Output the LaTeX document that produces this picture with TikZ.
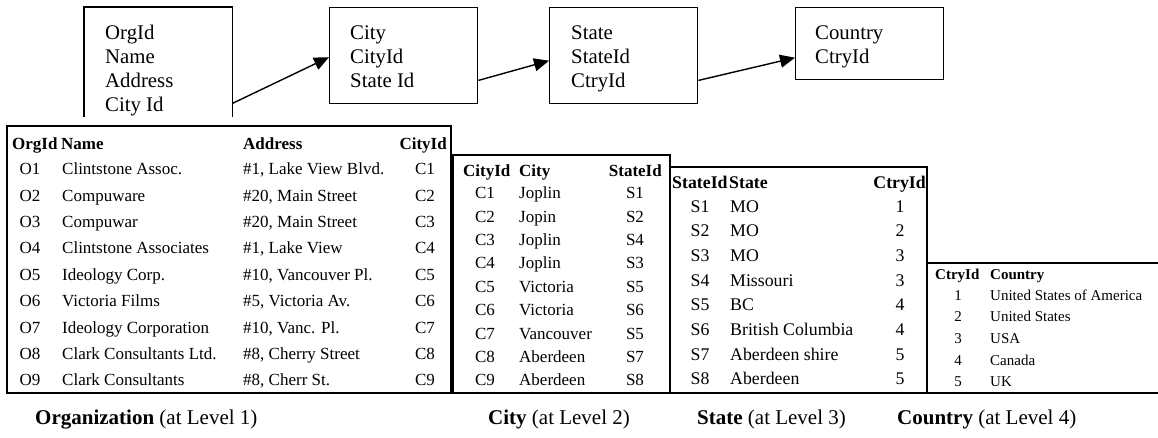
\documentclass[tikz,border=0pt]{standalone}
\usepackage{fontspec}
\setmainfont{Liberation Serif}
\usetikzlibrary{arrows.meta}
\begin{document}
\begin{tikzpicture}[x=1pt,y=-1pt,
  boxln/.style={line width=1.4pt},
  tabln/.style={line width=1.3pt},
  blbl/.style={anchor=base west, inner sep=0pt, font=\fontsize{20.8}{24}\selectfont},
  arr/.style={-{Triangle[length=15pt,width=13pt]}, line width=1.4pt},
  ot/.style={inner sep=0pt, font=\fontsize{17}{20}\selectfont},
  ct/.style={inner sep=0pt, font=\fontsize{17}{20}\selectfont},
  st/.style={inner sep=0pt, font=\fontsize{17.8}{20}\selectfont},
  kt/.style={inner sep=0pt, font=\fontsize{15}{18}\selectfont},
  captxt/.style={anchor=base west, inner sep=0pt, font=\fontsize{21}{24}\selectfont}
]
\useasboundingbox (0,0) rectangle (1158,437);

% ---------- top entity boxes ----------
\node (orgbox) [anchor=north west, minimum width=148pt, minimum height=110pt, inner sep=0pt] at (84,7) {};
\draw[boxln] (orgbox.south west) -- (orgbox.north west) -- (orgbox.north east) -- (orgbox.south east);
\node (citybox) [draw, boxln, anchor=north west, minimum width=148pt, minimum height=96pt, inner sep=0pt] at (329,7) {};
\node (statebox) [draw, boxln, anchor=north west, minimum width=148pt, minimum height=96pt, inner sep=0pt] at (549,7) {};
\node (ctrybox) [draw, boxln, anchor=north west, minimum width=148pt, minimum height=72pt, inner sep=0pt] at (795,7) {};

\node[blbl] (bo1) at (105,39) {OrgId};
\node[blbl] (bo2) at (105,63) {Name};
\node[blbl] (bo3) at (105,87) {Address};
\node[blbl] (bo4) at (105,111) {City Id};
\node[blbl] (bc1) at (350,39) {City};
\node[blbl] (bc2) at (350,63) {CityId};
\node[blbl] (bc3) at (350,87) {State Id};
\node[blbl] (bs1) at (571,39) {State};
\node[blbl] (bs2) at (571,63) {StateId};
\node[blbl] (bs3) at (571,87) {CtryId};
\node[blbl] (bk1) at (815,39) {Country};
\node[blbl] (bk2) at (815,63) {CtryId};

\draw[arr] ([yshift=14pt]orgbox.south east) -- ([yshift=-1.5pt]citybox.west);
\draw[arr] ([yshift=24pt]citybox.south east) -- ([yshift=-5pt]statebox.west);
\draw[arr] ([yshift=24pt]statebox.south east) -- ([yshift=-14pt]ctrybox.west);

% ---------- table borders ----------
\draw[tabln] (7,126) rectangle (451,393);
\draw[tabln] (453,155) rectangle (670,393);
\draw[tabln] (670,167) rectangle (927,393);
\draw[tabln] (1158,263) -- (927,263) -- (927,393) -- (1158,393);
\draw[tabln] (7,393) -- (1158,393);

% ---------- Organization table ----------
\node[ot, anchor=base west] (oh1) at (12,149) {\textbf{OrgId}};
\node[ot, anchor=base west] (oh2) at (61,149) {\textbf{Name}};
\node[ot, anchor=base west] (oh3) at (243,149) {\textbf{Address}};
\node[ot, anchor=base east] (oh4) at (447,149) {\textbf{CityId}};
\foreach \i/\n/\a in {
  1/{Clintstone Assoc.}/{\#1, Lake View Blvd.},
  2/{Compuware}/{\#20, Main Street},
  3/{Compuwar}/{\#20, Main Street},
  4/{Clintstone Associates}/{\#1, Lake View},
  5/{Ideology Corp.}/{\#10, Vancouver Pl.},
  6/{Victoria Films}/{\#5, Victoria Av.},
  7/{Ideology Corporation}/{\#10, Vanc. Pl.},
  8/{Clark Consultants Ltd.}/{\#8, Cherry Street},
  9/{Clark Consultants}/{\#8, Cherr St.}}{
  \pgfmathsetmacro\yy{174.6+26.4*(\i-1)}
  \node[ot, anchor=base] (oid\i) at (30,\yy) {O\i};
  \node[ot, anchor=base west] (onm\i) at (62,\yy) {\n};
  \node[ot, anchor=base west] (oad\i) at (243,\yy) {\a};
  \node[ot, anchor=base] (ocy\i) at (425,\yy) {C\i};
}

% ---------- City table ----------
\node[ct, anchor=base west] (ch1) at (463,176.6) {\textbf{CityId}};
\node[ct, anchor=base west] (ch2) at (519,176.6) {\textbf{City}};
\node[ct, anchor=base east] (ch3) at (662,176.6) {\textbf{StateId}};
\foreach \i/\n/\s in {
  1/Joplin/1, 2/Jopin/2, 3/Joplin/4, 4/Joplin/3, 5/Victoria/5,
  6/Victoria/6, 7/Vancouver/5, 8/Aberdeen/7, 9/Aberdeen/8}{
  \pgfmathsetmacro\yy{198.6+23.4*(\i-1)}
  \node[ct, anchor=base] (cid\i) at (485,\yy) {C\i};
  \node[ct, anchor=base west] (cnm\i) at (519,\yy) {\n};
  \node[ct, anchor=base] (cst\i) at (635,\yy) {S\s};
}

% ---------- State table ----------
\node[st, anchor=base west] (sh1) at (672,188) {\textbf{StateId}};
\node[st, anchor=base west] (sh2) at (729,188) {\textbf{State}};
\node[st, anchor=base east] (sh3) at (926,188) {\textbf{CtryId}};
\foreach \i/\n/\c in {
  1/MO/1, 2/MO/2, 3/MO/3, 4/Missouri/3, 5/BC/4,
  6/{British Columbia}/4, 7/{Aberdeen shire}/5, 8/Aberdeen/5}{
  \pgfmathsetmacro\yy{212+24.7*(\i-1)}
  \node[st, anchor=base] (sid\i) at (700,\yy) {S\i};
  \node[st, anchor=base west] (snm\i) at (730,\yy) {\n};
  \node[st, anchor=base] (sct\i) at (900,\yy) {\c};
}

% ---------- Country table ----------
\node[kt, anchor=base west] (kh1) at (935,279) {\textbf{CtryId}};
\node[kt, anchor=base west] (kh2) at (990,279) {\textbf{Country}};
\foreach \i/\n in {
  1/{United States of America}, 2/{United States}, 3/USA, 4/Canada, 5/UK}{
  \pgfmathsetmacro\yy{300+21.7*(\i-1)}
  \node[kt, anchor=base] (kid\i) at (958,\yy) {\i};
  \node[kt, anchor=base west] (knm\i) at (990,\yy) {\n};
}

% ---------- captions ----------
\node[captxt] (cap1) at (35,424) {\textbf{Organization} (at Level 1)};
\node[captxt] (cap2) at (488,424) {\textbf{City} (at Level 2)};
\node[captxt] (cap3) at (697,424) {\textbf{State} (at Level 3)};
\node[captxt] (cap4) at (897,424) {\textbf{Country} (at Level 4)};
\end{tikzpicture}
\end{document}
